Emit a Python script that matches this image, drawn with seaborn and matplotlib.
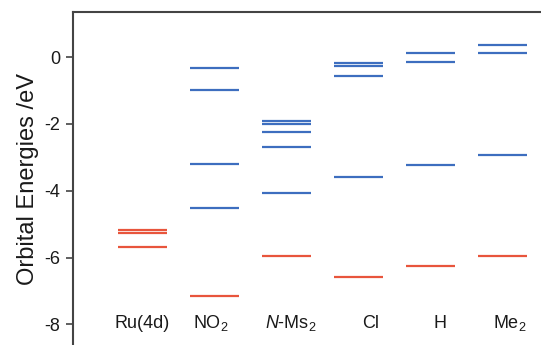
import matplotlib
matplotlib.use("Agg")
import matplotlib.pyplot as plt
import seaborn as sns
import pandas as pd

# Frontier orbital energies (eV) for the Ru 4d set and each ligand
categories = ["Ru(4d)", "NO$_2$", r"$\mathit{N}$-Ms$_2$", "Cl", "H", "Me$_2$"]
occupied = [
    [-5.18, -5.27, -5.70],
    [-7.16],
    [-5.96],
    [-6.58],
    [-6.25],
    [-5.96],
]
unoccupied = [
    [],
    [-0.31, -0.97, -3.21, -4.53],
    [-1.91, -1.99, -2.24, -2.69, -4.08],
    [-0.19, -0.25, -0.56, -3.58],
    [0.12, -0.14, -3.24],
    [0.36, 0.12, -2.93],
]
yticks = [0, -2, -4, -6, -8]

sns.set_style("white")
plt.rcParams["font.family"] = ["Liberation Sans", "DejaVu Sans"]
plt.rcParams["mathtext.fontset"] = "custom"
plt.rcParams["mathtext.rm"] = "Liberation Sans"
plt.rcParams["mathtext.it"] = "Liberation Sans:italic"
plt.rcParams["axes.unicode_minus"] = False

rows = []
for i, cat in enumerate(categories):
    for e in occupied[i]:
        rows.append({"pos": i, "energy": e, "kind": "occ"})
    for e in unoccupied[i]:
        rows.append({"pos": i, "energy": e, "kind": "virt"})
df = pd.DataFrame(rows)

palette = {"occ": "#e8553c", "virt": "#3d6ebf"}
half = 0.34

fig = plt.figure(figsize=(5.41, 3.45), dpi=100)
ax = fig.add_axes([0.135, 0.0, 0.865, 0.965])

for kind, grp in df.groupby("kind"):
    ax.hlines(grp["energy"], grp["pos"] - half, grp["pos"] + half,
              color=palette[kind], linewidth=1.6)

# category names sit slightly off-centre under some of the level stacks
label_shift = [0.0, -0.04, 0.07, 0.17, 0.14, 0.1]
for i, cat in enumerate(categories):
    ax.text(i + label_shift[i], -8.1, cat, ha="center", va="baseline",
            fontsize=13, color="#1a1a1a")

ax.set_xlim(-0.96, 5.54)
ax.set_ylim(-8.62, 1.35)
ax.set_xticks([])
ax.set_yticks(yticks)
ax.set_yticklabels([str(t) for t in yticks], fontsize=13, color="#1a1a1a")
ax.tick_params(axis="y", direction="out", length=5, width=1.2, color="#444444", pad=4, left=True)
ax.set_ylabel("Orbital Energies /eV", fontsize=17, color="#1a1a1a", labelpad=4)

for side in ["right", "bottom"]:
    ax.spines[side].set_visible(False)
for side in ["left", "top"]:
    ax.spines[side].set_color("#444444")
    ax.spines[side].set_linewidth(1.5)

fig.savefig("out.png", dpi=100)
